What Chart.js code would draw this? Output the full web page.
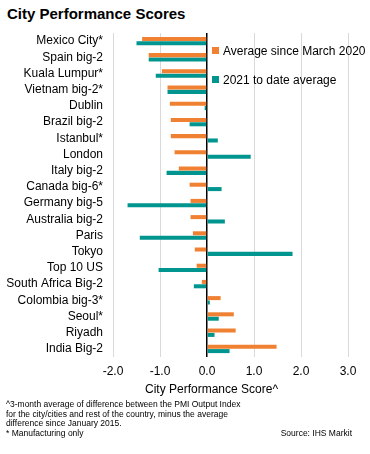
<!DOCTYPE html>
<html>
<head>
<meta charset="utf-8">
<script src="https://cdn.jsdelivr.net/npm/chart.js@4"></script>
<style>
  body { margin: 0; background: #fff; font-family: "Liberation Sans", Arial, sans-serif; color: #000; }
  #wrap { position: relative; width: 370px; height: 454px; overflow: hidden; }
  #chartBox { position: absolute; left: 0; top: 0; width: 370px; height: 400px; }
  .txt { position: absolute; white-space: nowrap; }
  #title { left: 7px; top: 5px; font-size: 15px; font-weight: bold; }
  .leg { position: absolute; font-size: 12px; white-space: nowrap; }
  .leg span { display: inline-block; width: 7px; height: 7px; margin-right: 4px; vertical-align: 1px; }
  #axTitle { left: 145px; top: 382px; font-size: 12px; }
  .note { left: 6px; font-size: 8.5px; }
</style>
</head>
<body>
<div id="wrap">
  <div class="txt" id="title">City Performance Scores</div>
  <div id="chartBox"><canvas id="cityChart" width="370" height="400"></canvas></div>
  <div class="leg" style="left:212px; top:44px;"><span style="background:#F08032"></span>Average since March 2020</div>
  <div class="leg" style="left:212px; top:73px;"><span style="background:#00958F"></span>2021 to date average</div>
  <div class="txt" id="axTitle">City Performance Score^</div>
  <div class="txt note" style="top:399px;">^3-month average of difference between the PMI Output Index</div>
  <div class="txt note" style="top:408.5px;">for the city/cities and rest of the country, minus the average</div>
  <div class="txt note" style="top:418px;">difference since January 2015.</div>
  <div class="txt note" style="top:427.5px;">* Manufacturing only</div>
  <div class="txt note" style="top:427.5px; left:auto; right:18px;">Source: IHS Markit</div>
</div>
<script>
// 도시 목록
var cities = ['Mexico City*', 'Spain big-2', 'Kuala Lumpur*', 'Vietnam big-2*', 'Dublin', 'Brazil big-2',
  'Istanbul*', 'London', 'Italy big-2', 'Canada big-6*', 'Germany big-5', 'Australia big-2', 'Paris',
  'Tokyo', 'Top 10 US', 'South Africa Big-2', 'Colombia big-3*', 'Seoul*', 'Riyadh', 'India Big-2'];
var sinceMarch2020 = [-1.38, -1.24, -0.96, -0.84, -0.79, -0.77, -0.77, -0.69, -0.60, -0.37, -0.35, -0.35,
  -0.30, -0.26, -0.22, -0.11, 0.29, 0.57, 0.61, 1.48];
var toDate2021 = [-1.50, -1.24, -1.09, -0.84, -0.05, -0.37, 0.23, 0.93, -0.86, 0.31, -1.69, 0.38,
  -1.43, 1.82, -1.03, -0.28, 0.06, 0.25, 0.16, 0.48];
var xTicks = [-2, -1, 0, 1, 2, 3];

const ctx = document.getElementById('cityChart').getContext('2d');
const cityChart = new Chart(ctx, {
  type: 'bar',
  data: {
    labels: cities,
    datasets: [{
      label: 'Average since March 2020',
      data: sinceMarch2020,
      backgroundColor: '#F08032',
      categoryPercentage: 0.54,
      barPercentage: 0.92
    }, {
      label: '2021 to date average',
      data: toDate2021,
      backgroundColor: '#00958F',
      categoryPercentage: 0.54,
      barPercentage: 0.92
    }]
  },
  options: {
    indexAxis: 'y',
    responsive: false,
    maintainAspectRatio: false,
    animation: false,
    layout: { padding: { top: 33, right: 22, bottom: 0, left: 0 } },
    plugins: { legend: { display: false }, tooltip: { enabled: false } },
    scales: {
      x: {
        min: xTicks[0],
        max: xTicks[xTicks.length - 1],
        afterBuildTicks: function(scale) {
          scale.ticks = xTicks.map(function(v) { return { value: v }; });
        },
        afterFit: function(scale) { scale.height = 43; },
        grid: {
          drawTicks: false,
          color: function(c) { return c.tick && c.tick.value === 0 ? '#000' : '#d9d9d9'; },
          lineWidth: function(c) { return c.tick && c.tick.value === 0 ? 1.5 : 1; }
        },
        border: { display: false },
        ticks: {
          padding: 7,
          color: '#000',
          font: { family: 'Liberation Sans', size: 12 },
          callback: function(v) { return Number(v).toFixed(1); }
        }
      },
      y: {
        afterFit: function(scale) { scale.width = 113; },
        grid: { display: false, drawTicks: false },
        border: { display: false },
        ticks: {
          padding: 10,
          color: '#000',
          autoSkip: false,
          font: { family: 'Liberation Sans', size: 12 }
        }
      }
    }
  }
});
</script>
</body>
</html>
